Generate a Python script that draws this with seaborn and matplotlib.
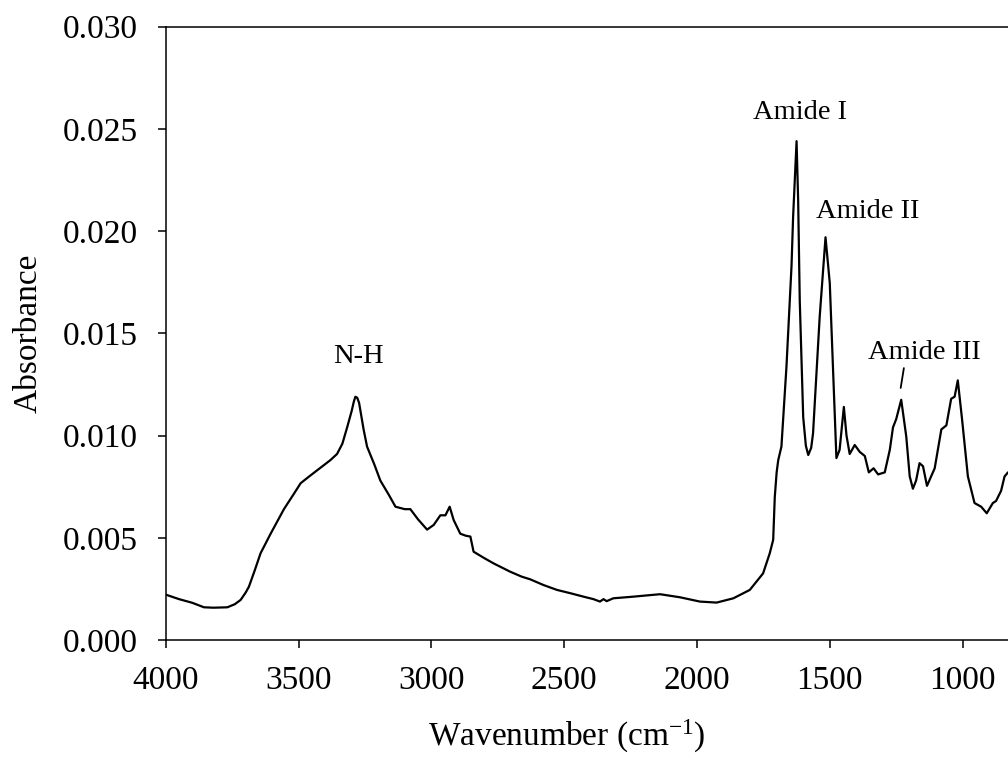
import numpy as np
import pandas as pd
import matplotlib
matplotlib.use("Agg")
import matplotlib.pyplot as plt
import seaborn as sns

# FTIR spectrum (wavenumber in cm-1, absorbance)
wavenumber = [4000, 3950, 3900, 3856, 3820, 3768, 3740, 3718, 3700, 3687,
              3665, 3643, 3605, 3555, 3520, 3492, 3460, 3430, 3400, 3380,
              3355, 3335, 3317, 3300, 3292, 3286, 3279, 3272, 3264, 3255,
              3242, 3215, 3192, 3160, 3135, 3100, 3079, 3050, 3016, 2991,
              2966, 2947, 2931, 2916, 2891, 2870, 2853, 2841, 2800, 2766,
              2741, 2703, 2660, 2628, 2578, 2527, 2480, 2427, 2390, 2365,
              2352, 2340, 2315, 2240, 2139, 2064, 1989, 1926, 1863, 1801,
              1751, 1726, 1713, 1707, 1700, 1694, 1682, 1663, 1644, 1638,
              1625, 1619, 1613, 1600, 1590, 1581, 1570, 1563, 1538, 1516,
              1500, 1488, 1475, 1463, 1447, 1437, 1425, 1406, 1387, 1368,
              1353, 1335, 1318, 1293, 1274, 1262, 1250, 1231, 1212, 1199,
              1187, 1175, 1162, 1149, 1134, 1105, 1080, 1061, 1043, 1030,
              1018, 1002, 980, 955, 930, 909, 886, 874, 855, 842, 829]
absorbance = [0.00222, 0.00200, 0.00182, 0.00160, 0.00158, 0.00160, 0.00175, 0.00196, 0.00230, 0.00260,
              0.00340, 0.00424, 0.00520, 0.00640, 0.00710, 0.00767, 0.00800, 0.00830, 0.00860, 0.00880,
              0.00910, 0.00960, 0.01040, 0.01120, 0.01165, 0.01190, 0.01185, 0.01160, 0.01100, 0.01030,
              0.00946, 0.00860, 0.00780, 0.00710, 0.00652, 0.00640, 0.00640, 0.00590, 0.00540, 0.00563,
              0.00610, 0.00610, 0.00652, 0.00587, 0.00520, 0.00510, 0.00506, 0.00432, 0.00400, 0.00375,
              0.00359, 0.00334, 0.00310, 0.00297, 0.00269, 0.00245, 0.00230, 0.00212, 0.00200, 0.00188,
              0.00200, 0.00190, 0.00204, 0.00212, 0.00224, 0.00209, 0.00188, 0.00183, 0.00204, 0.00245,
              0.00326, 0.00424, 0.00490, 0.00700, 0.00820, 0.00880, 0.00946, 0.01338, 0.01830, 0.02070,
              0.02440, 0.02150, 0.01660, 0.01090, 0.00950, 0.00905, 0.00940, 0.01010, 0.01580, 0.01970,
              0.01746, 0.01340, 0.00890, 0.00930, 0.01140, 0.01000, 0.00910, 0.00954, 0.00920, 0.00900,
              0.00820, 0.00840, 0.00810, 0.00820, 0.00930, 0.01040, 0.01080, 0.01175, 0.00995, 0.00800,
              0.00740, 0.00780, 0.00865, 0.00850, 0.00754, 0.00840, 0.01030, 0.01050, 0.01180, 0.01190,
              0.01270, 0.01080, 0.00800, 0.00670, 0.00652, 0.00620, 0.00670, 0.00680, 0.00730, 0.00800,
              0.00820]

peak_labels = ["N-H", "Amide I", "Amide II", "Amide III"]
label_x = [3274, 1613, 1357, 1143]
label_y = [0.01385, 0.02579, 0.02095, 0.01405]

x_ticks = [4000, 3500, 3000, 2500, 2000, 1500, 1000]
y_ticks = [0.000, 0.005, 0.010, 0.015, 0.020, 0.025, 0.030]

spec = pd.DataFrame({"Wavenumber": wavenumber, "Absorbance": absorbance})

sns.set_style("ticks")
plt.rcParams["font.family"] = ["Liberation Serif", "DejaVu Serif"]
plt.rcParams["mathtext.fontset"] = "custom"
plt.rcParams["mathtext.rm"] = "Liberation Serif"
plt.rcParams["mathtext.it"] = "Liberation Serif:italic"
plt.rcParams["text.color"] = "black"
plt.rcParams["axes.labelcolor"] = "black"

fig = plt.figure(figsize=(10.08, 7.63), dpi=100)
ax = fig.add_axes([0.1644, 0.1612, 0.8356, 0.8038])

sns.lineplot(data=spec, x="Wavenumber", y="Absorbance", ax=ax,
             color="black", linewidth=1.6, estimator=None)

ax.set_xlim(4000, 829)
ax.set_ylim(0, 0.030)
ax.set_xticks(x_ticks)
ax.set_yticks(y_ticks)
ax.set_yticklabels([f"{v:.3f}" for v in y_ticks])
ax.tick_params(axis="both", labelsize=24, length=6, width=1.1, colors="black")
ax.tick_params(axis="x", pad=12)
ax.tick_params(axis="y", pad=14)

for s in ["left", "bottom", "top"]:
    ax.spines[s].set_linewidth(1.1)
    ax.spines[s].set_color("black")
ax.spines["right"].set_visible(False)

ax.set_xlabel("Wavenumber (cm$^{-1}$)", fontsize=24, color="black")
ax.xaxis.set_label_coords(0.476, -0.127)
ax.set_ylabel("Absorbance", fontsize=24, labelpad=14, color="black")

for lab, lx, ly in zip(peak_labels, label_x, label_y):
    ax.text(lx, ly, lab, fontsize=20.5, ha="center", va="center", color="black")
# small leader line for Amide III
ax.plot([1221, 1233], [0.0133, 0.01233], color="black", linewidth=1.3)

plt.savefig("out.png", dpi=100)
